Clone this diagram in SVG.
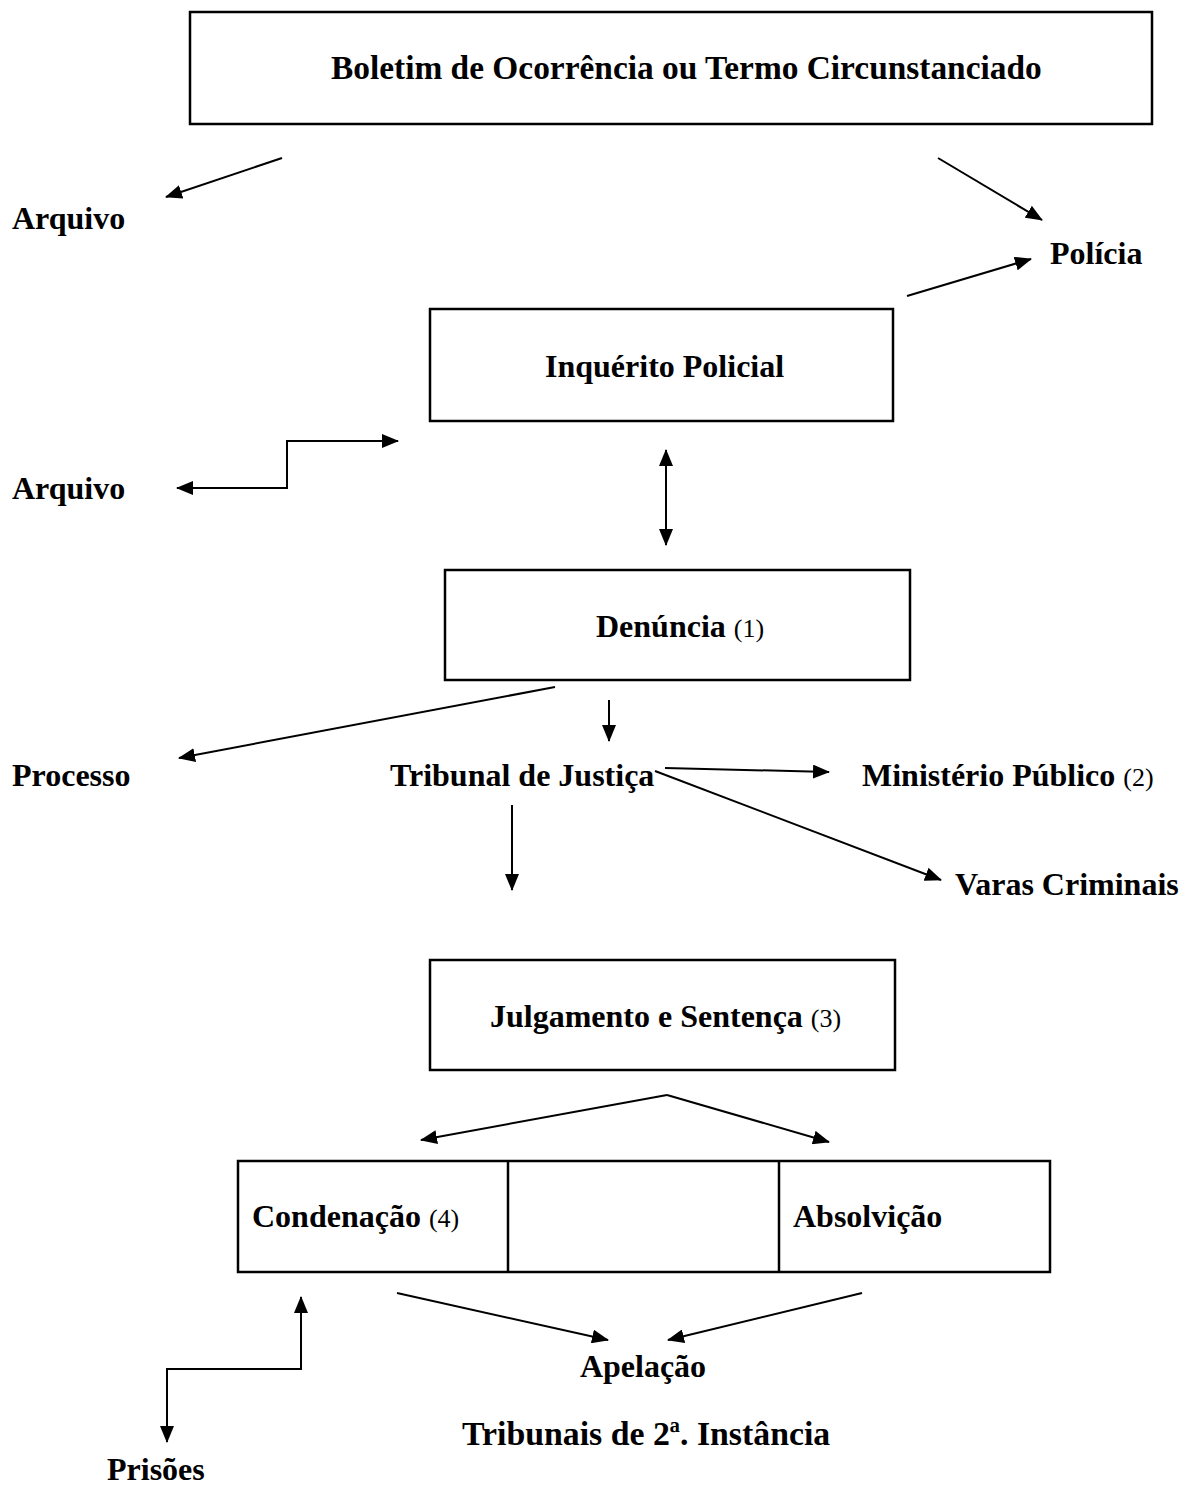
<svg xmlns="http://www.w3.org/2000/svg" width="1188" height="1489" viewBox="0 0 1188 1489">
<style>
.box{fill:#fff;stroke:#000;stroke-width:2.5}
.t{font-family:"Liberation Serif","Times New Roman",serif;font-weight:bold;font-size:32px;fill:#000}
.n{font-weight:normal;font-size:26px}
.c{fill:none;stroke:#000;stroke-width:2;marker-end:url(#ah)}
</style>
<defs>
<marker id="ah" viewBox="0 0 17 14" refX="16" refY="7" markerWidth="17" markerHeight="14" markerUnits="userSpaceOnUse" orient="auto-start-reverse">
<path d="M0,0 L17,7 L0,14 z" fill="#000"/>
</marker>
</defs>
<rect width="1188" height="1489" fill="#fff"/>
<g id="boletim"><rect class="box" x="190" y="12" width="962" height="112"/><text class="t" x="331" y="79" style="font-size:33.4px">Boletim de Ocorrência ou Termo Circunstanciado</text></g>
<g id="arquivo1"><text class="t" x="12" y="229">Arquivo</text></g>
<g id="policia"><text class="t" x="1050" y="264">Polícia</text></g>
<g id="inquerito"><rect class="box" x="430" y="309" width="463" height="112"/><text class="t" x="545" y="377">Inquérito Policial</text></g>
<g id="arquivo2"><text class="t" x="12" y="499">Arquivo</text></g>
<g id="denuncia"><rect class="box" x="445" y="570" width="465" height="110"/><text class="t" x="596" y="637">Denúncia <tspan class="n">(1)</tspan></text></g>
<g id="processo"><text class="t" x="12" y="786">Processo</text></g>
<g id="tribunal"><text class="t" x="390" y="786">Tribunal de Justiça</text></g>
<g id="ministerio"><text class="t" x="862" y="786">Ministério Público <tspan class="n">(2)</tspan></text></g>
<g id="varas"><text class="t" x="955" y="895">Varas Criminais</text></g>
<g id="julgamento"><rect class="box" x="430" y="960" width="465" height="110"/><text class="t" x="490" y="1027">Julgamento e Sentença <tspan class="n">(3)</tspan></text></g>
<g id="resultado"><rect class="box" x="238" y="1161" width="812" height="111"/><line x1="508" y1="1161" x2="508" y2="1272" stroke="#000" stroke-width="2.5"/><line x1="779" y1="1161" x2="779" y2="1272" stroke="#000" stroke-width="2.5"/><text class="t" x="252" y="1227">Condenação <tspan class="n">(4)</tspan></text><text class="t" x="793" y="1227">Absolvição</text></g>
<g id="apelacao"><text class="t" x="643" y="1377" text-anchor="middle">Apelação</text></g>
<g id="tribunais2"><text class="t" x="462" y="1445" style="font-size:33.8px">Tribunais de 2ª. Instância</text></g>
<g id="prisoes"><text class="t" x="107" y="1480">Prisões</text></g>
<g id="connectors">
<line class="c" x1="282" y1="158" x2="166" y2="197"/>
<line class="c" x1="938" y1="158" x2="1042" y2="220"/>
<line class="c" x1="907" y1="296" x2="1031" y2="259"/>
<polyline class="c" points="398,441 287,441 287,488 177,488" style="marker-start:url(#ah)"/>
<line class="c" x1="666" y1="450" x2="666" y2="545" style="marker-start:url(#ah)"/>
<line class="c" x1="555" y1="687" x2="179" y2="758"/>
<line class="c" x1="609" y1="700" x2="609" y2="741"/>
<line class="c" x1="665" y1="768" x2="829" y2="772"/>
<line class="c" x1="655" y1="771" x2="941" y2="880"/>
<line class="c" x1="512" y1="805" x2="512" y2="890"/>
<line class="c" x1="667" y1="1095" x2="421" y2="1140"/>
<line class="c" x1="667" y1="1095" x2="829" y2="1142"/>
<line class="c" x1="397" y1="1293" x2="608" y2="1340"/>
<line class="c" x1="862" y1="1293" x2="668" y2="1340"/>
<polyline class="c" points="301,1297 301,1369 167,1369 167,1442" style="marker-start:url(#ah)"/>
</g>
</svg>
